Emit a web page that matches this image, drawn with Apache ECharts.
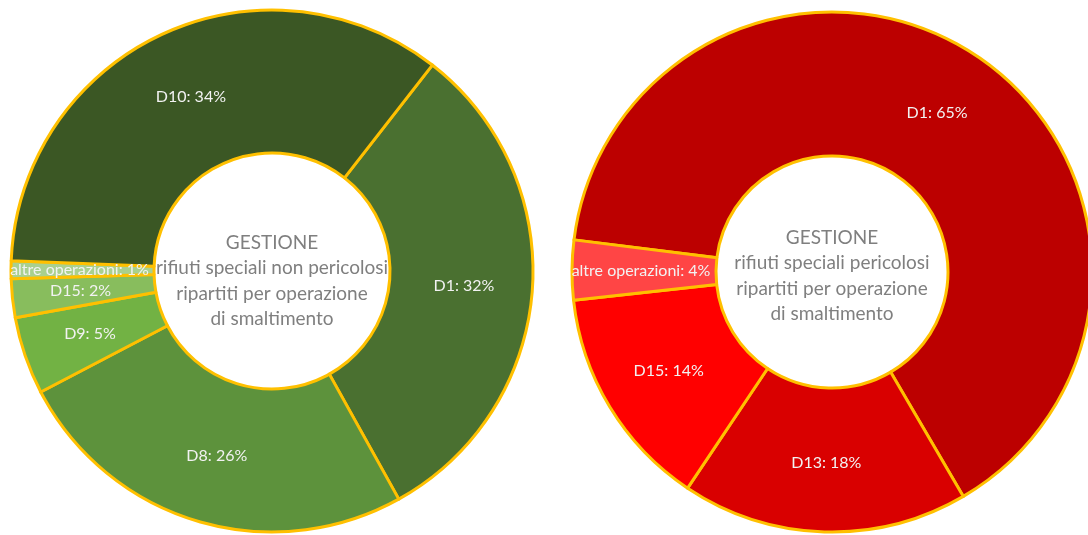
<!DOCTYPE html>
<html>
<head>
<meta charset="utf-8">
<script src="https://cdn.jsdelivr.net/npm/echarts@6/dist/echarts.min.js"></script>
<style>
  html, body { margin: 0; padding: 0; background: #fff; }
  #chart { width: 1088px; height: 535px; }
</style>
</head>
<body>
<div id="chart"></div>
<script>
// non pericolosi (clockwise from D1) - slice sizes, labels as printed
const npNames = ['D1', 'D8', 'D9', 'D15', 'altre operazioni', 'D10']
const npValues = [31.4, 25.4, 4.8, 2.4, 1.1, 34.9]
const npLabels = [32, 26, 5, 2, 1, 34]
const npColors = ['#4a7030', '#5d923c', '#72b244', '#88bd5d', '#a9d08e', '#3b5724']

// pericolosi (clockwise from D1)
const pNames = ['D1', 'D13', 'D15', 'altre operazioni']
const pValues = [64.6, 17.8, 13.9, 3.7]
const pLabels = [65, 18, 14, 4]
const pColors = ['#bc0000', '#d90000', '#ff0000', '#ff4545']

const npTitle = ['GESTIONE', 'rifiuti speciali non pericolosi', 'ripartiti per operazione', 'di smaltimento']
const pTitle = ['GESTIONE', 'rifiuti speciali pericolosi', 'ripartiti per operazione', 'di smaltimento']

const font = 'Lato, "Open Sans", sans-serif'

const makeData = (names, values, labels, colors) =>
    names.map((n, i) => ({
        name: n,
        value: values[i],
        pct: labels[i],
        itemStyle: { color: colors[i] }
    }))

const donut = (center, radius, startAngle, data) => ({
    type: 'pie',
    center: center,
    radius: radius,
    startAngle: startAngle,
    clockwise: true,
    avoidLabelOverlap: false,
    silent: true,
    data: data,
    itemStyle: {
        borderColor: '#ffc000',
        borderWidth: 3
    },
    label: {
        show: true,
        position: 'inside',
        formatter: p => p.name + ': ' + p.data.pct + '%',
        color: '#f2f2f2',
        fontFamily: font,
        fontSize: 16,
        fontWeight: 'normal'
    },
    labelLine: { show: false }
})

const centerText = (x, y, lines) => ({
    type: 'text',
    x: x,
    y: y,
    style: {
        text: lines.join('\n'),
        fill: '#7f7f7f',
        font: '19px ' + font,
        lineHeight: 25.5,
        textAlign: 'center',
        textVerticalAlign: 'middle'
    }
})

let Charts = echarts.init(document.getElementById('chart'))
Charts.setOption({
    animation: false,
    series: [
        donut([272, 271], [118, 261], 52.1, makeData(npNames, npValues, npLabels, npColors)),
        donut([832, 272], [116, 260], 172.9, makeData(pNames, pValues, pLabels, pColors))
    ],
    graphic: [
        centerText(272, 281, npTitle),
        centerText(832, 276, pTitle)
    ]
})
</script>
</body>
</html>
